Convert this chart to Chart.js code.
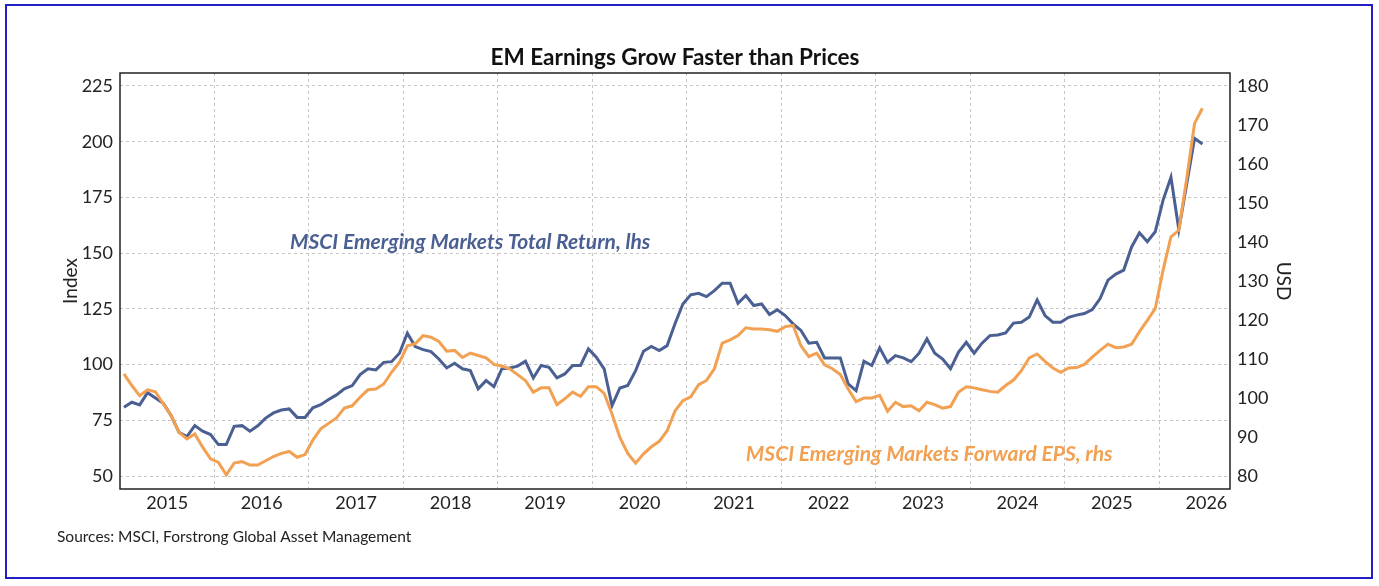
<!DOCTYPE html>
<html><head><meta charset="utf-8">
<script src="https://cdn.jsdelivr.net/npm/chart.js@4.4.1/dist/chart.umd.min.js"></script>
<style>
html,body{margin:0;padding:0;background:#fff;}
#wrap{position:relative;width:1379px;height:586px;overflow:hidden;}
#frame{position:absolute;left:5px;top:4px;width:1364px;height:571px;border:2px solid #1f1fc4;pointer-events:none;}
canvas{position:absolute;left:0;top:0;}
</style></head><body>
<div id="wrap"><canvas id="c" width="1379" height="586"></canvas><div id="frame"></div></div>
<script>
// Year tick labels (placed mid-year)
const years = ["2015","2016","2017","2018","2019","2020","2021","2022","2023","2024","2025","2026"];
// Monthly observations starting Jan 2015
const totalReturn = [
 80.8,83.1,81.9,87.4,85.0,82.6,77.1,69.6,67.7,72.6,70.1,68.6,
 64.1,64.1,72.3,72.6,70.1,72.5,76.0,78.3,79.6,80.1,76.3,76.3,
 80.6,82.0,84.3,86.4,89.1,90.6,95.5,98.1,97.6,101.0,101.3,105.1,
 114.1,108.1,106.7,105.8,102.5,98.5,100.6,98.1,97.3,89.1,92.8,90.1,
 98.1,98.5,99.3,101.5,94.0,99.6,98.8,94.0,95.8,99.6,99.6,107.0,
 103.3,98.1,81.6,89.5,90.6,97.3,106.0,108.1,106.3,108.5,118.3,127.2,
 131.3,132.0,130.5,133.2,136.5,136.5,127.5,131.0,126.5,127.2,122.5,124.6,
 122.0,118.3,115.3,109.6,110.0,103.0,103.0,103.0,91.3,88.3,101.5,99.6,
 107.5,101.0,104.0,103.0,101.3,105.1,111.5,105.1,102.5,98.1,105.5,110.0,
 105.1,109.6,113.0,113.3,114.2,118.6,119.0,121.3,129.0,122.0,119.0,119.0,
 121.2,122.2,122.9,124.7,129.6,137.9,140.6,142.4,152.8,159.1,155.1,159.6,
 173.8,184.0,160.6,181.0,201.5,199.0
];
const forwardEPS = [
 106.2,103.2,100.6,102.1,101.6,98.5,95.5,91.2,89.5,90.8,87.4,84.4,
 83.5,80.3,83.3,83.7,82.8,82.8,83.9,85.0,85.8,86.3,84.8,85.5,
 89.2,92.1,93.5,94.9,97.4,98.0,100.2,102.1,102.3,103.6,106.6,109.2,
 113.4,113.9,116.0,115.6,114.5,112.0,112.2,110.4,111.5,110.9,110.3,108.6,
 108.2,107.5,106.0,104.5,101.5,102.6,102.6,98.3,99.8,101.5,100.4,102.9,
 102.9,101.2,95.9,89.9,85.8,83.3,85.7,87.5,88.9,91.6,96.7,99.3,
 100.3,103.4,104.5,107.5,114.1,114.9,116.0,118.0,117.7,117.7,117.5,117.1,
 118.3,118.6,113.4,110.6,111.5,108.5,107.5,106.0,102.3,99.1,100.0,100.0,
 100.7,96.6,98.9,97.8,98.0,96.7,98.9,98.3,97.4,97.8,101.5,102.9,
 102.6,102.1,101.7,101.5,103.2,104.6,107.0,110.3,111.3,109.4,107.7,106.6,
 107.7,107.8,108.6,110.5,112.2,113.8,112.9,113.1,113.8,117.0,119.9,122.9,
 132.8,141.3,143.0,156.3,170.4,174.3
];
const leftTicks = [50,75,100,125,150,175,200,225];
const rightTicks = [80,90,100,110,120,130,140,150,160,170,180];

const FONT = "Lato, 'Open Sans', 'Liberation Sans', sans-serif";
const BLUE = '#4a5f92';
const ORANGE = '#f2a052';

const toPoints = arr => arr.map((v, i) => ({x: i + 0.5, y: v})); // mid-month

const notes = [
  {text: 'MSCI Emerging Markets Total Return, lhs', x: 21.6, y: 155.0, axis: 'y', color: BLUE},
  {text: 'MSCI Emerging Markets Forward EPS, rhs', x: 79.5, y: 85.7, axis: 'y2', color: ORANGE}
];
const sourceText = 'Sources: MSCI, Forstrong Global Asset Management';

const framePlugin = {
  id: 'frame',
  beforeDatasetsDraw(chart) {
    const {ctx, chartArea: a} = chart;
    ctx.save();
    ctx.strokeStyle = '#222';
    ctx.lineWidth = 1.5;
    ctx.strokeRect(a.left, a.top, a.right - a.left, a.bottom - a.top);
    ctx.restore();
  }
};
const notesPlugin = {
  id: 'notes',
  afterDatasetsDraw(chart) {
    const {ctx, scales} = chart;
    ctx.save();
    ctx.font = "italic bold 21px " + FONT;
    ctx.textBaseline = 'middle';
    ctx.textAlign = 'left';
    notes.forEach(n => {
      ctx.fillStyle = n.color;
      ctx.fillText(n.text, scales.x.getPixelForValue(n.x), scales[n.axis].getPixelForValue(n.y));
    });
    ctx.font = "15.5px " + FONT;
    ctx.fillStyle = '#222';
    ctx.fillText(sourceText, 57, 537);
    ctx.restore();
  }
};

new Chart(document.getElementById('c'), {
  type: 'line',
  data: {
    datasets: [
      {label: 'MSCI Emerging Markets Forward EPS, rhs', data: toPoints(forwardEPS), yAxisID: 'y2',
       borderColor: ORANGE, borderWidth: 3, pointRadius: 0, tension: 0, fill: false},
      {label: 'MSCI Emerging Markets Total Return, lhs', data: toPoints(totalReturn), yAxisID: 'y',
       borderColor: BLUE, borderWidth: 3, pointRadius: 0, tension: 0, fill: false}
    ]
  },
  options: {
    responsive: false,
    animation: false,
    layout: {padding: 0},
    plugins: {
      legend: {display: false},
      tooltip: {enabled: false},
      title: {display: true, text: 'EM Earnings Grow Faster than Prices', fullSize: false,
        color: '#111', font: {family: FONT, size: 22.5, weight: 'bold'}, padding: {top: 44, bottom: 2}}
    },
    scales: {
      x: {
        type: 'linear', min: 0, max: 141,
        ticks: {stepSize: 6, includeBounds: false, autoSkip: false, maxRotation: 0, padding: 3, color: '#222',
          font: {family: FONT, size: 18},
          callback: v => (v % 12 === 6) ? years[(v - 6) / 12] : ''},
        grid: {drawTicks: false, lineWidth: 1,
          color: c => (c.tick && c.tick.value % 12 === 0 && c.tick.value > 0) ? '#c6c6c6' : 'rgba(0,0,0,0)'},
        border: {display: false, dash: [3, 3]},
        afterFit: s => { s.height = 97; }
      },
      y: {
        type: 'linear', position: 'left', min: 44.17, max: 230.83,
        afterBuildTicks: s => { s.ticks = leftTicks.map(v => ({value: v})); },
        ticks: {padding: 7, color: '#222', font: {family: FONT, size: 18}},
        grid: {drawTicks: false, color: '#c6c6c6', lineWidth: 1},
        border: {display: false, dash: [3, 3]},
        title: {display: true, text: 'Index', color: '#222', font: {family: FONT, size: 19}, padding: {top: 59, bottom: 0}},
        afterFit: s => { s.width = 120; }
      },
      y2: {
        type: 'linear', position: 'right', min: 76.67, max: 183.33,
        afterBuildTicks: s => { s.ticks = rightTicks.map(v => ({value: v})); },
        ticks: {padding: 7, color: '#222', font: {family: FONT, size: 18}},
        grid: {display: false, drawTicks: false},
        border: {display: false},
        title: {display: true, text: 'USD', color: '#222', font: {family: FONT, size: 19}, padding: {top: 84, bottom: 0}},
        afterFit: s => { s.width = 149; }
      }
    }
  },
  plugins: [framePlugin, notesPlugin]
});
</script>
</body></html>
